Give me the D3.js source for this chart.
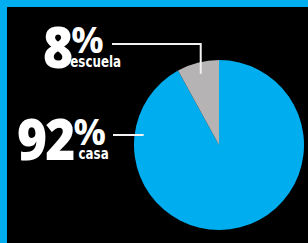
<!DOCTYPE html>
<html>
<head>
<meta charset="utf-8">
<script src="https://cdn.jsdelivr.net/npm/d3@7/dist/d3.min.js"></script>
<style>
  body { margin: 0; background: #000; }
  svg { display: block; }
</style>
</head>
<body>
<svg id="chart" width="308" height="243"></svg>
<script>
// data
const labels = ['casa', 'escuela'];
const values = [92, 8];
const colors = ['#00aeef', '#b5b3b3'];

const W = 308, H = 243;
const svg = d3.select('#chart');

// background + blue frame (top and left only)
svg.append('rect').attr('width', W).attr('height', H).attr('fill', '#000');
svg.append('rect').attr('width', W).attr('height', 7).attr('fill', '#00aeef');
svg.append('rect').attr('width', 7).attr('height', H).attr('fill', '#00aeef');

const cx = 219, cy = 145, r = 85;

const pie = d3.pie().sort(null).value(d => d.value);
const arc = d3.arc().innerRadius(0).outerRadius(r);

const slices = pie(labels.map((l, i) => ({label: l, value: values[i], color: colors[i]})));

const g = svg.append('g').attr('transform', `translate(${cx},${cy})`);
g.selectAll('path')
    .data(slices)
    .join('path')
    .attr('d', arc)
    .attr('fill', d => d.data.color);

// label layout: where the number sits, and how the leader line runs
const labelPos = {
    escuela: {x: 43, y: 68, lineY: 44, lineX0: 112, elbow: true, rIn: 73.5, subDx: -1},
    casa:    {x: 17, y: 160, lineY: 135, lineX0: 113, elbow: false, rIn: 76, subDx: 5}
};

slices.forEach(s => {
    const p = labelPos[s.data.label];
    const a = (s.startAngle + s.endAngle) / 2;
    let ex, ey;
    if (p.elbow) {
        ex = cx + p.rIn * Math.sin(a);
        ey = cy - p.rIn * Math.cos(a);
        svg.append('polyline')
            .attr('points', `${p.lineX0},${p.lineY} ${ex},${p.lineY} ${ex},${ey}`)
            .attr('fill', 'none')
            .attr('stroke', '#f2f2f2')
            .attr('stroke-width', 2);
    } else {
        ex = cx - Math.sqrt(p.rIn * p.rIn - (p.lineY - cy) * (p.lineY - cy));
        svg.append('line')
            .attr('x1', p.lineX0).attr('y1', p.lineY)
            .attr('x2', ex).attr('y2', p.lineY)
            .attr('stroke', '#f2f2f2')
            .attr('stroke-width', 2);
    }

    const num = svg.append('text')
        .attr('x', p.x)
        .attr('y', p.y)
        .attr('fill', '#fff')
        .style('font-family', '"Open Sans", sans-serif')
        .style('font-weight', 800)
        .style('font-size', '57px')
        .style('letter-spacing', '-2px')
        .text(d3.format('d')(s.data.value));
    // condensed look
    const nw0 = num.node().getComputedTextLength();
    const nw = nw0 * 0.9;
    num.attr('textLength', nw).attr('lengthAdjust', 'spacingAndGlyphs');

    svg.append('text')
        .attr('x', p.x + nw)
        .attr('y', p.y - 15)
        .attr('fill', '#fff')
        .style('font-family', '"Open Sans", sans-serif')
        .style('font-weight', 700)
        .style('font-size', '36px')
        .text('%');
    const sub = svg.append('text')
        .attr('x', p.x + nw + p.subDx)
        .attr('y', p.y - 1)
        .attr('fill', '#fff')
        .style('font-family', '"Liberation Sans Narrow", "DejaVu Sans Condensed", sans-serif')
        .style('font-weight', 700)
        .style('font-size', '15px')
        .text(s.data.label);
    const sw = sub.node().getComputedTextLength();
    sub.attr('textLength', sw * 0.88).attr('lengthAdjust', 'spacingAndGlyphs');
});
</script>
</body>
</html>
